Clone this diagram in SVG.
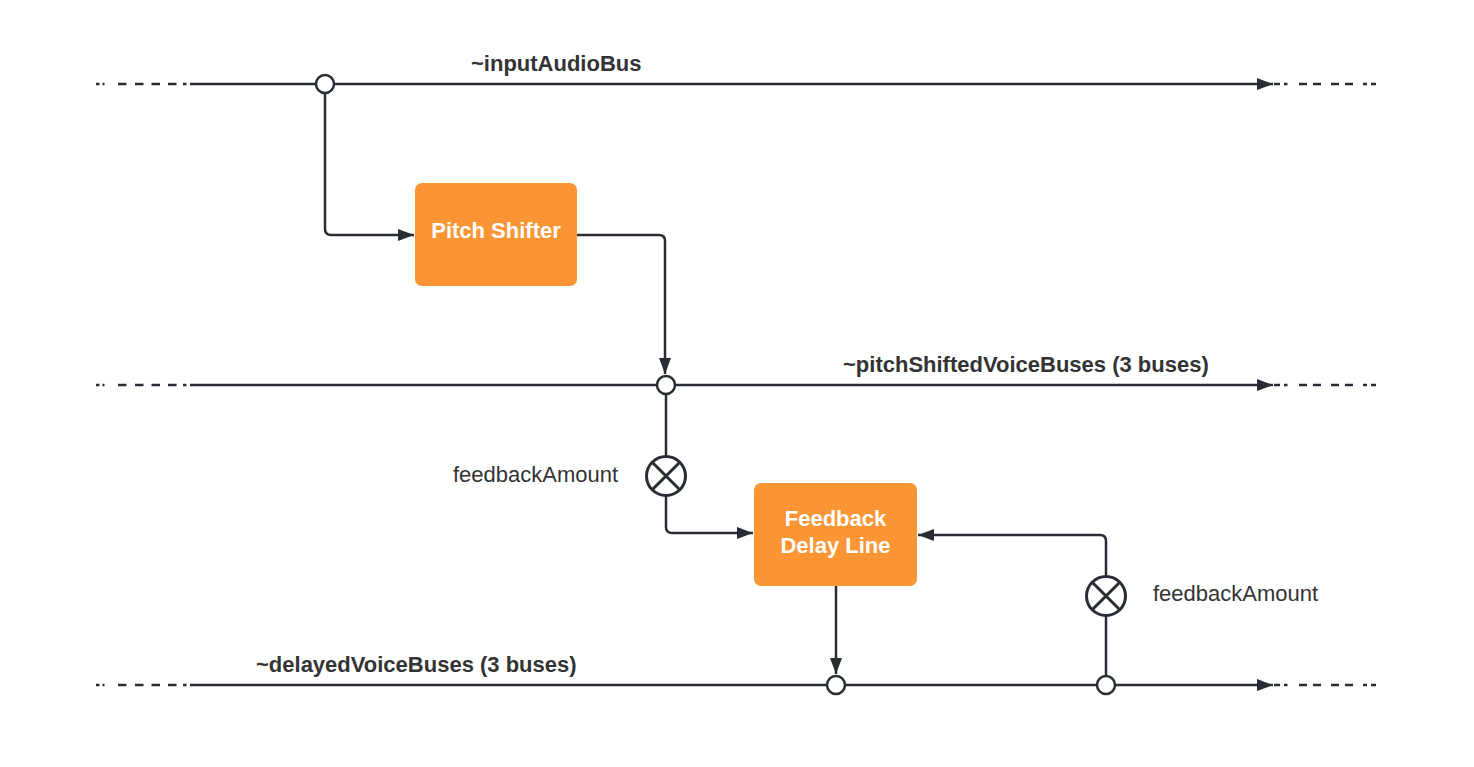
<svg xmlns="http://www.w3.org/2000/svg" width="1474" height="767" viewBox="0 0 1474 767">
<style>
.ln{fill:none;stroke:#282c33;stroke-width:2.5}
.dash{fill:none;stroke:#282c33;stroke-width:2.5}
.jn{fill:#fff;stroke:#282c33;stroke-width:2.5}
.mx{fill:#fff;stroke:#282c33;stroke-width:3}
.box{fill:#fc9533}
.bt{font-family:"Liberation Sans",Arial,sans-serif;font-size:22px;font-weight:bold;fill:#ffffff;text-anchor:middle}
.lb{font-family:"Liberation Sans",Arial,sans-serif;font-size:22px;font-weight:bold;fill:#333333}
.lr{font-family:"Liberation Sans",Arial,sans-serif;font-size:22px;fill:#333333}
</style>
<defs>
<marker id="arr" markerUnits="userSpaceOnUse" markerWidth="17" markerHeight="13" refX="16" refY="6.5" orient="auto">
<path d="M0,0.5 L16,6.5 L0,12.5 z" fill="#282c33"/>
</marker>
</defs>
<rect width="1474" height="767" fill="#ffffff"/>
<g id="connectors">
<path class="ln" d="M196 84 H1273" marker-end="url(#arr)"/>
<path class="ln" d="M196 385 H1273" marker-end="url(#arr)"/>
<path class="ln" d="M196 685 H1273" marker-end="url(#arr)"/>
<path class="dash" d="M96 84h3.5M102.5 84h2M118 84h8.5M135 84h8.5M151.5 84h8.5M168 84h8.5M183 84h3.5M190 84h6"/>
<path class="dash" d="M96 385h3.5M102.5 385h2M118 385h8.5M135 385h8.5M151.5 385h8.5M168 385h8.5M183 385h3.5M190 385h6"/>
<path class="dash" d="M96 685h3.5M102.5 685h2M118 685h8.5M135 685h8.5M151.5 685h8.5M168 685h8.5M183 685h3.5M190 685h6"/>
<path class="dash" d="M1274 84h6M1284 84h3.5M1299 84h8M1313 84h8M1331 84h8M1345 84h8M1363 84h4M1371 84h5"/>
<path class="dash" d="M1274 385h6M1284 385h3.5M1299 385h8M1313 385h8M1331 385h8M1345 385h8M1363 385h4M1371 385h5"/>
<path class="dash" d="M1274 685h6M1284 685h3.5M1299 685h8M1313 685h8M1331 685h8M1345 685h8M1363 685h4M1371 685h5"/>
<path class="ln" d="M325 94 V229 Q325 235 331 235 H414" marker-end="url(#arr)"/>
<path class="ln" d="M577 235 H659 Q665 235 665 241 V374" marker-end="url(#arr)"/>
<path class="ln" d="M666 395 V456"/>
<path class="ln" d="M666 496 V527 Q666 533 672 533 H753" marker-end="url(#arr)"/>
<path class="ln" d="M836 586 V674" marker-end="url(#arr)"/>
<path class="ln" d="M1106 675 V616"/>
<path class="ln" d="M1106 576 V541 Q1106 535 1100 535 H918" marker-end="url(#arr)"/>
</g>
<g id="j-top"><circle class="jn" cx="325" cy="84" r="9"/></g>
<g id="j-mid"><circle class="jn" cx="666" cy="385" r="9"/></g>
<g id="j-bot1"><circle class="jn" cx="836" cy="685" r="9"/></g>
<g id="j-bot2"><circle class="jn" cx="1106" cy="685" r="9"/></g>
<g id="mult-left">
<circle class="mx" cx="666" cy="476" r="19.5"/>
<path class="ln" style="stroke-width:3" d="M652.2 462.2 L679.8 489.8 M679.8 462.2 L652.2 489.8"/>
</g>
<g id="mult-right">
<circle class="mx" cx="1106" cy="596" r="19.5"/>
<path class="ln" style="stroke-width:3" d="M1092.2 582.2 L1119.8 609.8 M1119.8 582.2 L1092.2 609.8"/>
</g>
<g id="pitch-shifter">
<rect class="box" x="415" y="183" width="162" height="103" rx="7"/>
<text class="bt" x="496" y="238">Pitch Shifter</text>
</g>
<g id="feedback-delay-line">
<rect class="box" x="754" y="483" width="163" height="103" rx="7"/>
<text class="bt" x="835.5" y="526">Feedback</text>
<text class="bt" x="835.5" y="553">Delay Line</text>
</g>
<g id="labels">
<text class="lb" x="471" y="71">~inputAudioBus</text>
<text class="lb" x="843" y="372">~pitchShiftedVoiceBuses (3 buses)</text>
<text class="lb" x="256" y="672">~delayedVoiceBuses (3 buses)</text>
<text class="lr" x="453" y="482">feedbackAmount</text>
<text class="lr" x="1153" y="601">feedbackAmount</text>
</g>
</svg>
